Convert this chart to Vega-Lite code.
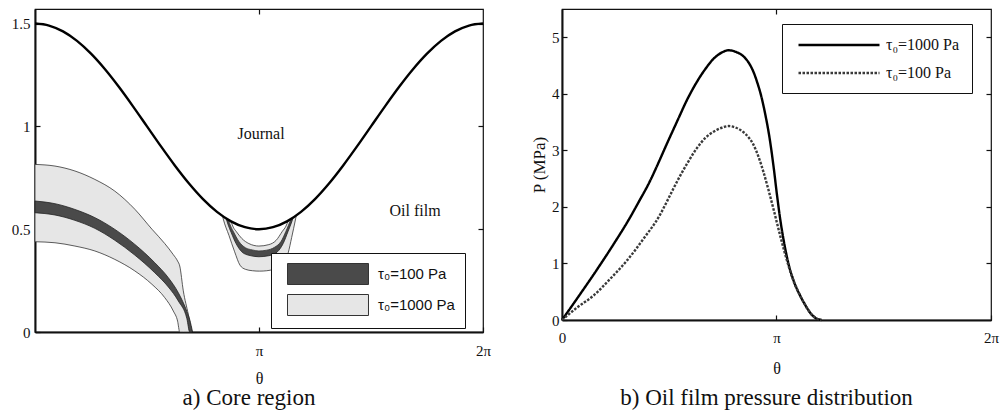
{
  "$schema": "https://vega.github.io/schema/vega-lite/v6.json",
  "autosize": {"type": "pad"},
  "padding": {"left": 10, "top": 7, "right": 4, "bottom": 4},
  "background": "white",
  "bounds": "flush",
  "spacing": 79,
  "config": {
    "view": {"stroke": "#111", "strokeWidth": 1.2},
    "font": "Liberation Serif, Times New Roman, serif",
    "axis": {
      "labelFont": "Liberation Serif, Times New Roman, serif",
      "labelFontSize": 15,
      "labelColor": "#111",
      "labelFlush": false,
      "labelOverlap": false,
      "tickColor": "#111",
      "tickSize": -5,
      "tickWidth": 1.2,
      "domainColor": "#111",
      "domainWidth": 2,
      "grid": false,
      "titleFont": "Liberation Serif, Times New Roman, serif",
      "titleFontSize": 16,
      "titleFontWeight": "normal",
      "titleColor": "#111"
    }
  },
  "datasets": {
    "journal": [
      {"theta": 0, "h": 1.5}, {"theta": 0.19635, "h": 1.4904}, {"theta": 0.3927, "h": 1.4619},
      {"theta": 0.58905, "h": 1.4157}, {"theta": 0.7854, "h": 1.3536}, {"theta": 0.98175, "h": 1.2778},
      {"theta": 1.1781, "h": 1.1913}, {"theta": 1.37445, "h": 1.0975}, {"theta": 1.5708, "h": 1.0},
      {"theta": 1.76715, "h": 0.9025}, {"theta": 1.9635, "h": 0.8087}, {"theta": 2.15985, "h": 0.7222},
      {"theta": 2.3562, "h": 0.6464}, {"theta": 2.55255, "h": 0.5843}, {"theta": 2.7489, "h": 0.5381},
      {"theta": 2.94525, "h": 0.5096}, {"theta": 3.14159, "h": 0.5}, {"theta": 3.33794, "h": 0.5096},
      {"theta": 3.53429, "h": 0.5381}, {"theta": 3.73064, "h": 0.5843}, {"theta": 3.92699, "h": 0.6464},
      {"theta": 4.12334, "h": 0.7222}, {"theta": 4.31969, "h": 0.8087}, {"theta": 4.51604, "h": 0.9025},
      {"theta": 4.71239, "h": 1.0}, {"theta": 4.90874, "h": 1.0975}, {"theta": 5.10509, "h": 1.1913},
      {"theta": 5.30144, "h": 1.2778}, {"theta": 5.49779, "h": 1.3536}, {"theta": 5.69414, "h": 1.4157},
      {"theta": 5.89049, "h": 1.4619}, {"theta": 6.08684, "h": 1.4904}, {"theta": 6.28319, "h": 1.5}
    ],
    "lightBand": [
      {"theta": 0, "top": 0.815, "bot": 0.439, "tau": "τ₀=1000 Pa"},
      {"theta": 0.28, "top": 0.807, "bot": 0.434, "tau": "τ₀=1000 Pa"},
      {"theta": 0.56, "top": 0.783, "bot": 0.418, "tau": "τ₀=1000 Pa"},
      {"theta": 0.84, "top": 0.742, "bot": 0.394, "tau": "τ₀=1000 Pa"},
      {"theta": 1.12, "top": 0.685, "bot": 0.353, "tau": "τ₀=1000 Pa"},
      {"theta": 1.4, "top": 0.597, "bot": 0.297, "tau": "τ₀=1000 Pa"},
      {"theta": 1.64, "top": 0.5, "bot": 0.232, "tau": "τ₀=1000 Pa"},
      {"theta": 1.82, "top": 0.43, "bot": 0.167, "tau": "τ₀=1000 Pa"},
      {"theta": 1.94, "top": 0.376, "bot": 0.102, "tau": "τ₀=1000 Pa"},
      {"theta": 2.0, "top": 0.345, "bot": 0.053, "tau": "τ₀=1000 Pa"},
      {"theta": 2.03, "top": 0.321, "bot": 0, "tau": "τ₀=1000 Pa"},
      {"theta": 2.08, "top": 0.2, "bot": 0, "tau": "τ₀=1000 Pa"},
      {"theta": 2.15, "top": 0.086, "bot": 0, "tau": "τ₀=1000 Pa"},
      {"theta": 2.2, "top": 0, "bot": 0, "tau": "τ₀=1000 Pa"}
    ],
    "darkBand": [
      {"theta": 0, "top": 0.637, "bot": 0.58, "tau": "τ₀=100 Pa"},
      {"theta": 0.28, "top": 0.624, "bot": 0.569, "tau": "τ₀=100 Pa"},
      {"theta": 0.56, "top": 0.596, "bot": 0.543, "tau": "τ₀=100 Pa"},
      {"theta": 0.84, "top": 0.556, "bot": 0.504, "tau": "τ₀=100 Pa"},
      {"theta": 1.12, "top": 0.499, "bot": 0.446, "tau": "τ₀=100 Pa"},
      {"theta": 1.4, "top": 0.426, "bot": 0.374, "tau": "τ₀=100 Pa"},
      {"theta": 1.68, "top": 0.337, "bot": 0.288, "tau": "τ₀=100 Pa"},
      {"theta": 1.87, "top": 0.264, "bot": 0.219, "tau": "τ₀=100 Pa"},
      {"theta": 2.01, "top": 0.191, "bot": 0.151, "tau": "τ₀=100 Pa"},
      {"theta": 2.13, "top": 0.1, "bot": 0.065, "tau": "τ₀=100 Pa"},
      {"theta": 2.17, "top": 0.06, "bot": 0, "tau": "τ₀=100 Pa"},
      {"theta": 2.21, "top": 0, "bot": 0, "tau": "τ₀=100 Pa"}
    ],
    "cuspOuter": [
      {"theta": 2.63, "top": 0.564, "bot": 0.564},
      {"theta": 2.64, "top": 0.5616, "bot": 0.55},
      {"theta": 2.72, "top": 0.5438, "bot": 0.47},
      {"theta": 2.8, "top": 0.5289, "bot": 0.39},
      {"theta": 2.875, "top": 0.5177, "bot": 0.325},
      {"theta": 2.95, "top": 0.5092, "bot": 0.305},
      {"theta": 3.05, "top": 0.5021, "bot": 0.298},
      {"theta": 3.15, "top": 0.5, "bot": 0.296},
      {"theta": 3.25, "top": 0.5029, "bot": 0.298},
      {"theta": 3.35, "top": 0.5108, "bot": 0.305},
      {"theta": 3.45, "top": 0.5236, "bot": 0.322},
      {"theta": 3.5, "top": 0.5318, "bot": 0.345},
      {"theta": 3.55, "top": 0.5411, "bot": 0.384},
      {"theta": 3.6, "top": 0.5516, "bot": 0.46},
      {"theta": 3.655, "top": 0.5645, "bot": 0.55},
      {"theta": 3.665, "top": 0.567, "bot": 0.567}
    ],
    "cuspDark": [
      {"theta": 2.68, "top": 0.5523, "bot": 0.5523},
      {"theta": 2.71, "top": 0.5459, "bot": 0.52},
      {"theta": 2.75, "top": 0.5379, "bot": 0.485},
      {"theta": 2.82, "top": 0.5256, "bot": 0.43},
      {"theta": 2.9, "top": 0.5145, "bot": 0.39},
      {"theta": 3.0, "top": 0.505, "bot": 0.373},
      {"theta": 3.14, "top": 0.5, "bot": 0.366},
      {"theta": 3.28, "top": 0.5048, "bot": 0.371},
      {"theta": 3.4, "top": 0.5166, "bot": 0.39},
      {"theta": 3.48, "top": 0.5283, "bot": 0.43},
      {"theta": 3.55, "top": 0.5411, "bot": 0.49},
      {"theta": 3.6, "top": 0.5516, "bot": 0.535},
      {"theta": 3.62, "top": 0.5561, "bot": 0.5561}
    ],
    "cuspInner": [
      {"theta": 2.71, "top": 0.5459, "bot": 0.5459},
      {"theta": 2.75, "top": 0.5379, "bot": 0.51},
      {"theta": 2.78, "top": 0.5323, "bot": 0.49},
      {"theta": 2.86, "top": 0.5197, "bot": 0.44},
      {"theta": 2.95, "top": 0.5092, "bot": 0.41},
      {"theta": 3.05, "top": 0.5021, "bot": 0.399},
      {"theta": 3.14, "top": 0.5, "bot": 0.394},
      {"theta": 3.25, "top": 0.5029, "bot": 0.398},
      {"theta": 3.36, "top": 0.5119, "bot": 0.412},
      {"theta": 3.45, "top": 0.5236, "bot": 0.44},
      {"theta": 3.52, "top": 0.5353, "bot": 0.49},
      {"theta": 3.59, "top": 0.5494, "bot": 0.5494}
    ],
    "cuspVoid": [
      {"theta": 2.75, "top": 0.5379, "bot": 0.5379},
      {"theta": 2.78, "top": 0.5323, "bot": 0.51},
      {"theta": 2.82, "top": 0.5256, "bot": 0.49},
      {"theta": 2.9, "top": 0.5145, "bot": 0.455},
      {"theta": 3.0, "top": 0.505, "bot": 0.43},
      {"theta": 3.14, "top": 0.5, "bot": 0.418},
      {"theta": 3.28, "top": 0.5048, "bot": 0.425},
      {"theta": 3.38, "top": 0.5141, "bot": 0.445},
      {"theta": 3.47, "top": 0.5267, "bot": 0.49},
      {"theta": 3.52, "top": 0.5353, "bot": 0.515},
      {"theta": 3.55, "top": 0.5411, "bot": 0.5411}
    ],
    "pressure": [
      {"theta": 0, "P": 0, "series": "τ₀=1000 Pa"},
      {"theta": 0.25, "P": 0.43, "series": "τ₀=1000 Pa"},
      {"theta": 0.5, "P": 0.87, "series": "τ₀=1000 Pa"},
      {"theta": 0.75, "P": 1.33, "series": "τ₀=1000 Pa"},
      {"theta": 1.0, "P": 1.82, "series": "τ₀=1000 Pa"},
      {"theta": 1.12, "P": 2.08, "series": "τ₀=1000 Pa"},
      {"theta": 1.29, "P": 2.46, "series": "τ₀=1000 Pa"},
      {"theta": 1.39, "P": 2.72, "series": "τ₀=1000 Pa"},
      {"theta": 1.53, "P": 3.1, "series": "τ₀=1000 Pa"},
      {"theta": 1.7, "P": 3.55, "series": "τ₀=1000 Pa"},
      {"theta": 1.83, "P": 3.89, "series": "τ₀=1000 Pa"},
      {"theta": 1.97, "P": 4.2, "series": "τ₀=1000 Pa"},
      {"theta": 2.1, "P": 4.44, "series": "τ₀=1000 Pa"},
      {"theta": 2.22, "P": 4.62, "series": "τ₀=1000 Pa"},
      {"theta": 2.34, "P": 4.73, "series": "τ₀=1000 Pa"},
      {"theta": 2.44, "P": 4.77, "series": "τ₀=1000 Pa"},
      {"theta": 2.55, "P": 4.74, "series": "τ₀=1000 Pa"},
      {"theta": 2.66, "P": 4.66, "series": "τ₀=1000 Pa"},
      {"theta": 2.74, "P": 4.54, "series": "τ₀=1000 Pa"},
      {"theta": 2.8, "P": 4.4, "series": "τ₀=1000 Pa"},
      {"theta": 2.86, "P": 4.2, "series": "τ₀=1000 Pa"},
      {"theta": 2.92, "P": 3.95, "series": "τ₀=1000 Pa"},
      {"theta": 2.98, "P": 3.62, "series": "τ₀=1000 Pa"},
      {"theta": 3.04, "P": 3.22, "series": "τ₀=1000 Pa"},
      {"theta": 3.1, "P": 2.7, "series": "τ₀=1000 Pa"},
      {"theta": 3.15, "P": 2.2, "series": "τ₀=1000 Pa"},
      {"theta": 3.2, "P": 1.75, "series": "τ₀=1000 Pa"},
      {"theta": 3.26, "P": 1.32, "series": "τ₀=1000 Pa"},
      {"theta": 3.32, "P": 0.98, "series": "τ₀=1000 Pa"},
      {"theta": 3.4, "P": 0.67, "series": "τ₀=1000 Pa"},
      {"theta": 3.48, "P": 0.45, "series": "τ₀=1000 Pa"},
      {"theta": 3.56, "P": 0.27, "series": "τ₀=1000 Pa"},
      {"theta": 3.64, "P": 0.12, "series": "τ₀=1000 Pa"},
      {"theta": 3.72, "P": 0.03, "series": "τ₀=1000 Pa"},
      {"theta": 3.8, "P": 0, "series": "τ₀=1000 Pa"},
      {"theta": 0, "P": 0, "series": "τ₀=100 Pa"},
      {"theta": 0.22, "P": 0.22, "series": "τ₀=100 Pa"},
      {"theta": 0.46, "P": 0.43, "series": "τ₀=100 Pa"},
      {"theta": 0.7, "P": 0.72, "series": "τ₀=100 Pa"},
      {"theta": 0.95, "P": 1.05, "series": "τ₀=100 Pa"},
      {"theta": 1.19, "P": 1.43, "series": "τ₀=100 Pa"},
      {"theta": 1.44, "P": 1.87, "series": "τ₀=100 Pa"},
      {"theta": 1.53, "P": 2.08, "series": "τ₀=100 Pa"},
      {"theta": 1.63, "P": 2.32, "series": "τ₀=100 Pa"},
      {"theta": 1.73, "P": 2.55, "series": "τ₀=100 Pa"},
      {"theta": 1.83, "P": 2.76, "series": "τ₀=100 Pa"},
      {"theta": 1.97, "P": 3.03, "series": "τ₀=100 Pa"},
      {"theta": 2.1, "P": 3.22, "series": "τ₀=100 Pa"},
      {"theta": 2.22, "P": 3.33, "series": "τ₀=100 Pa"},
      {"theta": 2.34, "P": 3.4, "series": "τ₀=100 Pa"},
      {"theta": 2.44, "P": 3.43, "series": "τ₀=100 Pa"},
      {"theta": 2.55, "P": 3.4, "series": "τ₀=100 Pa"},
      {"theta": 2.66, "P": 3.32, "series": "τ₀=100 Pa"},
      {"theta": 2.74, "P": 3.22, "series": "τ₀=100 Pa"},
      {"theta": 2.8, "P": 3.11, "series": "τ₀=100 Pa"},
      {"theta": 2.88, "P": 2.88, "series": "τ₀=100 Pa"},
      {"theta": 2.95, "P": 2.62, "series": "τ₀=100 Pa"},
      {"theta": 3.02, "P": 2.32, "series": "τ₀=100 Pa"},
      {"theta": 3.1, "P": 1.95, "series": "τ₀=100 Pa"},
      {"theta": 3.2, "P": 1.47, "series": "τ₀=100 Pa"},
      {"theta": 3.26, "P": 1.2, "series": "τ₀=100 Pa"},
      {"theta": 3.32, "P": 0.95, "series": "τ₀=100 Pa"},
      {"theta": 3.4, "P": 0.66, "series": "τ₀=100 Pa"},
      {"theta": 3.48, "P": 0.45, "series": "τ₀=100 Pa"},
      {"theta": 3.56, "P": 0.27, "series": "τ₀=100 Pa"},
      {"theta": 3.64, "P": 0.12, "series": "τ₀=100 Pa"},
      {"theta": 3.72, "P": 0.03, "series": "τ₀=100 Pa"},
      {"theta": 3.8, "P": 0, "series": "τ₀=100 Pa"}
    ]
  },
  "hconcat": [
    {
      "width": 448,
      "height": 323,
      "title": {"text": "a) Core region", "orient": "bottom", "font": "Liberation Serif, Times New Roman, serif", "fontSize": 23, "fontWeight": "normal", "color": "#111", "offset": 1, "dx": -10},
      "resolve": {"axis": {"x": "independent", "y": "independent"}},
      "layer": [
        {
          "data": {"name": "lightBand"},
          "mark": {"type": "area", "interpolate": "monotone", "stroke": "#333", "strokeWidth": 0.8, "opacity": 1},
          "encoding": {
            "x": {"field": "theta", "type": "quantitative",
                  "scale": {"domain": [0, 6.28319], "nice": false},
                  "axis": {"orient": "bottom", "values": [3.14159, 6.28319], "labelExpr": "datum.value < 4 ? 'π' : '2π'", "labelPadding": 16, "title": "θ", "titlePadding": 12}},
            "y": {"field": "top", "type": "quantitative",
                  "scale": {"domain": [0, 1.5708], "nice": false},
                  "axis": {"orient": "left", "values": [0, 0.5, 1, 1.5], "format": "~g", "labelPadding": 10, "title": null}},
            "y2": {"field": "bot"},
            "fill": {"field": "tau", "type": "nominal",
                     "scale": {"domain": ["τ₀=100 Pa", "τ₀=1000 Pa"], "range": ["#4a4a4a", "#e6e6e6"]},
                     "legend": {"title": null, "orient": "none", "legendX": 236, "legendY": 244,
                                "symbolType": "M-3.857,-1H3.857V1H-3.857Z", "symbolSize": 441,
                                "symbolStrokeColor": "#333", "symbolStrokeWidth": 1, "symbolOpacity": 1,
                                "symbolOffset": 36, "labelFont": "Liberation Sans", "labelFontSize": 15,
                                "labelColor": "#111", "labelOffset": 39, "labelLimit": 200,
                                "padding": 10, "rowPadding": 5, "strokeColor": "#111", "fillColor": "white"}}
          }
        },
        {
          "data": {"name": "darkBand"},
          "mark": {"type": "area", "interpolate": "monotone", "stroke": "#222", "strokeWidth": 0.8, "opacity": 1},
          "encoding": {
            "x": {"field": "theta", "type": "quantitative", "axis": null},
            "y": {"field": "top", "type": "quantitative", "axis": null},
            "y2": {"field": "bot"},
            "fill": {"field": "tau", "type": "nominal", "legend": null}
          }
        },
        {
          "data": {"name": "cuspOuter"},
          "mark": {"type": "area", "interpolate": "monotone", "fill": "#e6e6e6", "stroke": "#333", "strokeWidth": 0.8, "opacity": 1},
          "encoding": {
            "x": {"field": "theta", "type": "quantitative", "axis": null},
            "y": {"field": "top", "type": "quantitative", "axis": null},
            "y2": {"field": "bot"}
          }
        },
        {
          "data": {"name": "cuspDark"},
          "mark": {"type": "area", "interpolate": "monotone", "fill": "#4a4a4a", "stroke": "#222", "strokeWidth": 0.8, "opacity": 1},
          "encoding": {
            "x": {"field": "theta", "type": "quantitative", "axis": null},
            "y": {"field": "top", "type": "quantitative", "axis": null},
            "y2": {"field": "bot"}
          }
        },
        {
          "data": {"name": "cuspInner"},
          "mark": {"type": "area", "interpolate": "monotone", "fill": "#e6e6e6", "stroke": "#333", "strokeWidth": 0.8, "opacity": 1},
          "encoding": {
            "x": {"field": "theta", "type": "quantitative", "axis": null},
            "y": {"field": "top", "type": "quantitative", "axis": null},
            "y2": {"field": "bot"}
          }
        },
        {
          "data": {"name": "cuspVoid"},
          "mark": {"type": "area", "interpolate": "monotone", "fill": "white", "stroke": "#333", "strokeWidth": 0.8, "opacity": 1},
          "encoding": {
            "x": {"field": "theta", "type": "quantitative", "axis": null},
            "y": {"field": "top", "type": "quantitative", "axis": null},
            "y2": {"field": "bot"}
          }
        },
        {
          "data": {"name": "journal"},
          "mark": {"type": "line", "interpolate": "monotone", "color": "#000", "strokeWidth": 2.4},
          "encoding": {
            "x": {"field": "theta", "type": "quantitative",
                  "axis": {"orient": "top", "values": [3.14159], "labels": false, "domain": false, "title": null}},
            "y": {"field": "h", "type": "quantitative",
                  "axis": {"orient": "right", "values": [0.5, 1, 1.5], "labels": false, "domain": false, "title": null}}
          }
        },
        {
          "data": {"values": [{}]},
          "mark": {"type": "text", "font": "Liberation Serif, Times New Roman, serif", "fontSize": 16, "color": "#111"},
          "encoding": {
            "x": {"datum": 3.17, "type": "quantitative", "axis": null},
            "y": {"datum": 0.963, "type": "quantitative", "axis": null},
            "text": {"value": "Journal"}
          }
        },
        {
          "data": {"values": [{}]},
          "mark": {"type": "text", "font": "Liberation Serif, Times New Roman, serif", "fontSize": 16, "color": "#111"},
          "encoding": {
            "x": {"datum": 5.33, "type": "quantitative", "axis": null},
            "y": {"datum": 0.588, "type": "quantitative", "axis": null},
            "text": {"value": "Oil film"}
          }
        }
      ]
    },
    {
      "width": 429,
      "height": 311,
      "title": {"text": "b) Oil film pressure distribution", "orient": "bottom", "font": "Liberation Serif, Times New Roman, serif", "fontSize": 23, "fontWeight": "normal", "color": "#111", "offset": 11, "dx": -10},
      "data": {"name": "pressure"},
      "resolve": {"axis": {"x": "independent", "y": "independent"}},
      "layer": [
        {
          "mark": {"type": "line", "interpolate": "monotone", "strokeWidth": 2.4},
          "encoding": {
            "x": {"field": "theta", "type": "quantitative",
                  "scale": {"domain": [0, 6.28319], "nice": false},
                  "axis": {"orient": "bottom", "values": [0, 3.14159, 6.28319], "labelExpr": "datum.value < 1 ? '0' : datum.value < 4 ? 'π' : '2π'", "labelPadding": 15, "title": "θ", "titlePadding": 15}},
            "y": {"field": "P", "type": "quantitative",
                  "scale": {"domain": [0, 5.5], "nice": false},
                  "axis": {"orient": "left", "values": [0, 1, 2, 3, 4, 5], "format": "~g", "labelPadding": 8, "title": "P (MPa)", "titleFontSize": 17, "titlePadding": 3}},
            "color": {"field": "series", "type": "nominal",
                      "scale": {"domain": ["τ₀=1000 Pa", "τ₀=100 Pa"], "range": ["#000000", "#3a3a3a"]},
                      "legend": {"title": null, "orient": "none", "legendX": 747, "legendY": 15,
                                 "symbolType": "M-5.4,0H5.4", "symbolSize": 225, "symbolStrokeWidth": 2.4,
                                 "symbolOffset": 36, "labelFont": "Liberation Serif, Times New Roman, serif", "labelFontSize": 16,
                                 "labelColor": "#111", "labelOffset": 38, "labelLimit": 200,
                                 "padding": 12, "rowPadding": 11, "strokeColor": "#111", "fillColor": "white"}},
            "strokeDash": {"field": "series", "type": "nominal",
                           "scale": {"domain": ["τ₀=1000 Pa", "τ₀=100 Pa"], "range": [[1, 0], [2.5, 1.5]]},
                           "legend": {"title": null, "orient": "none", "legendX": 747, "legendY": 15,
                                      "symbolType": "M-5.4,0H5.4", "symbolSize": 225, "symbolStrokeWidth": 2.4,
                                      "symbolOffset": 36, "labelFont": "Liberation Serif, Times New Roman, serif", "labelFontSize": 16,
                                      "labelColor": "#111", "labelOffset": 38, "labelLimit": 200,
                                      "padding": 12, "rowPadding": 11, "strokeColor": "#111", "fillColor": "white"}}
          }
        },
        {
          "mark": {"type": "point", "opacity": 0},
          "encoding": {
            "x": {"field": "theta", "type": "quantitative",
                  "axis": {"orient": "top", "values": [3.14159], "labels": false, "domain": false, "title": null}},
            "y": {"field": "P", "type": "quantitative",
                  "axis": {"orient": "right", "values": [1, 2, 3, 4, 5], "labels": false, "domain": false, "title": null}}
          }
        }
      ]
    }
  ]
}
